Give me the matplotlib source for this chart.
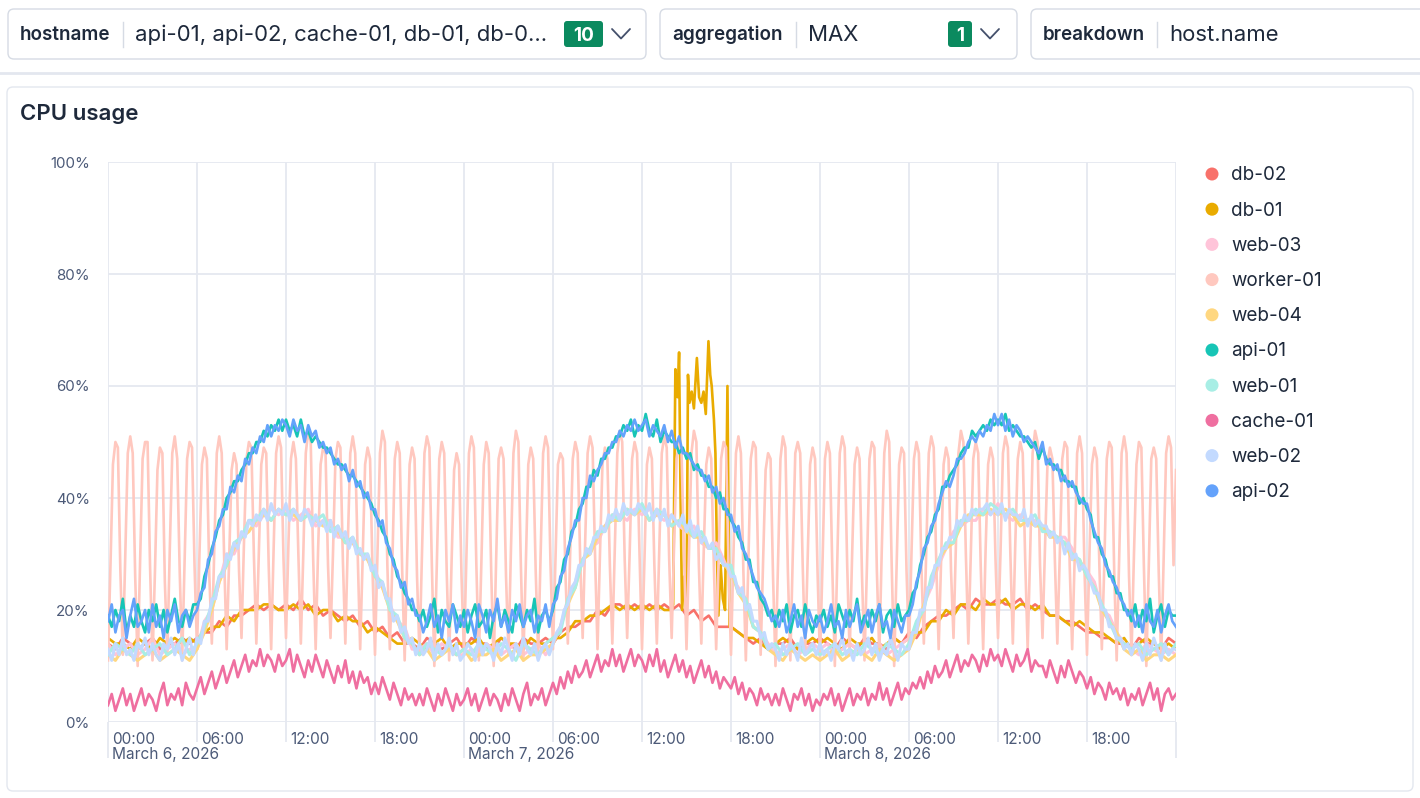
import matplotlib
matplotlib.use("Agg")
import matplotlib.pyplot as plt
import matplotlib.transforms as mtransforms
from matplotlib.patches import FancyBboxPatch, Circle
import numpy as np

plt.rcParams['font.family'] = ['Inter', 'DejaVu Sans']

# sample times in hours since 00:00 March 6, 2026
hours = np.arange(0, 72.5, 0.5)        # half-hourly
quarters = np.linspace(0, 72, 289)     # every 15 minutes
worker_hours = np.linspace(0, 72, 433)  # every 10 minutes

# ---- series values (CPU %) ----
db_02 = [
    14, 13, 15, 14, 13, 14, 15, 13, 14, 14, 15, 14, 15, 16, 16, 18, 17, 19, 19, 20, 21, 20, 21, 20,
    21, 20, 22, 20, 21, 19, 20, 19, 18, 19, 17, 18, 16, 17, 15, 16, 14, 14, 13, 15, 14, 13, 14, 15,
    13, 15, 14, 14, 13, 15, 14, 13, 15, 14, 14, 15, 14, 16, 17, 17, 18, 18, 20, 19, 21, 21, 20, 21,
    20, 21, 20, 21, 20, 21, 19, 20, 18, 19, 17, 17, 17, 16, 15, 14, 15, 13, 14, 14, 15, 13, 14, 14,
    15, 14, 13, 15, 14, 13, 15, 14, 14, 13, 15, 14, 16, 15, 17, 18, 19, 19, 20, 21, 20, 22, 21, 21,
    22, 21, 21, 22, 20, 21, 20, 19, 19, 18, 18, 17, 16, 16, 15, 15, 14, 14, 13, 15, 14, 14, 13, 15,
    14]
db_01 = [
    15, 14, 14, 13, 15, 14, 13, 15, 14, 15, 14, 15, 14, 16, 17, 17, 19, 18, 20, 20, 20, 21, 21, 20,
    20, 21, 20, 21, 19, 20, 20, 18, 19, 18, 18, 16, 17, 16, 15, 14, 14, 15, 14, 13, 14, 15, 13, 14,
    14, 14, 15, 13, 14, 15, 14, 14, 13, 15, 14, 14, 15, 15, 16, 18, 18, 19, 19, 20, 21, 20, 21, 20,
    21, 20, 21, 20, 20, 20, 20, 20, 20, 19, 18, 18, 17, 16, 15, 15, 14, 13, 14, 15, 14, 13, 14, 15,
    14, 15, 14, 13, 15, 14, 14, 15, 13, 14, 15, 14, 15, 16, 16, 18, 18, 20, 19, 21, 21, 20, 22, 21,
    21, 22, 20, 21, 21, 20, 21, 19, 19, 18, 17, 18, 17, 16, 16, 15, 14, 15, 13, 14, 15, 14, 13, 14,
    13]
# db-01 burst on the afternoon of March 7
db_01_spike_hours = [38.1, 38.25, 38.4, 38.5, 38.6, 38.7, 38.85, 39.0, 39.1, 39.2, 39.35, 39.5,
                     39.7, 39.85, 40.0, 40.15, 40.3, 40.48, 40.6, 40.7, 40.85, 40.95, 41.05,
                     41.15, 41.3, 41.45, 41.6, 41.76, 41.9]
db_01_spike = [21, 63, 58, 66, 40, 20, 26, 19, 62, 57, 59, 56, 65, 58, 57, 59, 55, 68, 62, 60,
               54, 48, 30, 19, 28, 22, 20, 60, 17]
web_03 = [
    14, 12, 13, 14, 12, 13, 15, 12, 13, 14, 12, 13, 13, 18, 20, 25, 30, 30, 33, 36, 35, 37, 38, 37,
    38, 36, 37, 38, 35, 36, 36, 33, 33, 32, 30, 29, 27, 24, 21, 18, 17, 13, 13, 14, 12, 14, 13, 12,
    12, 13, 12, 14, 13, 12, 13, 14, 12, 13, 14, 12, 14, 17, 22, 25, 29, 31, 32, 35, 37, 37, 36, 38,
    37, 38, 37, 36, 37, 35, 34, 35, 32, 31, 32, 29, 26, 24, 22, 17, 16, 14, 12, 13, 14, 12, 13, 14,
    13, 14, 12, 13, 14, 13, 12, 13, 14, 12, 13, 14, 15, 17, 21, 24, 28, 31, 34, 35, 36, 36, 38, 37,
    39, 37, 36, 37, 36, 36, 35, 34, 33, 33, 31, 28, 27, 25, 20, 19, 16, 14, 13, 12, 14, 13, 12, 13,
    12]
worker_01 = [
    11, 28, 46, 50, 49, 27, 12, 30, 48, 51, 48, 26,
    10, 29, 47, 50, 50, 28, 11, 27, 45, 49, 48, 25,
    12, 31, 48, 51, 47, 27, 11, 29, 47, 50, 49, 28,
    13, 30, 46, 49, 47, 26, 14, 31, 48, 51, 48, 29,
    13, 29, 45, 48, 46, 27, 15, 32, 47, 50, 49, 30,
    14, 30, 46, 49, 48, 28, 13, 31, 48, 51, 49, 29,
    15, 32, 47, 50, 47, 30, 14, 30, 48, 52, 50, 29,
    13, 31, 46, 49, 48, 28, 15, 30, 47, 50, 49, 29,
    14, 32, 48, 51, 48, 30, 13, 29, 46, 49, 47, 27,
    12, 30, 48, 52, 50, 28, 13, 28, 47, 50, 48, 27,
    11, 29, 46, 49, 47, 26, 12, 30, 48, 51, 49, 28,
    10, 28, 47, 50, 48, 27, 11, 29, 45, 48, 46, 26,
    12, 30, 48, 51, 49, 28, 11, 28, 46, 50, 48, 27,
    10, 29, 47, 49, 47, 26, 12, 31, 48, 52, 50, 28,
    11, 28, 46, 49, 47, 27, 12, 30, 48, 51, 49, 28,
    13, 29, 46, 48, 47, 27, 14, 31, 47, 50, 48, 29,
    15, 32, 48, 51, 49, 30, 13, 30, 46, 49, 47, 28,
    14, 31, 48, 52, 50, 29, 15, 30, 47, 50, 48, 30,
    13, 29, 46, 49, 47, 28, 14, 31, 48, 51, 49, 29,
    15, 32, 47, 50, 48, 30, 13, 30, 48, 52, 50, 28,
    14, 31, 46, 49, 47, 29, 13, 29, 47, 50, 49, 28,
    12, 30, 48, 51, 48, 27, 11, 28, 47, 50, 49, 28,
    12, 29, 45, 48, 47, 26, 10, 28, 47, 51, 49, 27,
    11, 30, 48, 50, 48, 28, 12, 29, 46, 49, 47, 27,
    11, 28, 47, 50, 48, 27, 10, 29, 48, 51, 49, 28,
    12, 30, 46, 49, 47, 26, 11, 28, 47, 50, 49, 27,
    12, 31, 48, 52, 50, 28, 10, 28, 46, 49, 48, 27,
    13, 30, 47, 50, 48, 28, 14, 31, 48, 51, 49, 29,
    13, 29, 46, 49, 47, 27, 15, 32, 48, 52, 50, 30,
    14, 30, 47, 50, 48, 28, 13, 31, 46, 49, 47, 29,
    15, 30, 48, 51, 49, 30, 14, 32, 47, 50, 48, 29,
    13, 30, 48, 52, 50, 28, 15, 31, 46, 49, 47, 29,
    14, 30, 47, 50, 49, 28, 13, 29, 48, 51, 48, 27,
    12, 30, 46, 49, 47, 28, 13, 28, 47, 50, 49, 27,
    11, 29, 48, 51, 48, 26, 12, 30, 46, 50, 49, 28,
    10, 28, 47, 49, 47, 27, 11, 29, 48, 51, 49, 28,
    45]
web_04 = [
    12, 11, 13, 12, 11, 12, 13, 11, 12, 13, 12, 11, 13, 16, 20, 25, 28, 31, 33, 34, 36, 37, 36, 38,
    37, 37, 36, 37, 36, 35, 35, 34, 32, 32, 30, 29, 26, 24, 20, 18, 15, 14, 12, 13, 11, 12, 13, 12,
    13, 11, 12, 12, 13, 11, 12, 13, 11, 12, 12, 13, 14, 17, 21, 24, 29, 30, 33, 35, 36, 36, 38, 37,
    38, 36, 37, 37, 35, 36, 34, 33, 33, 31, 31, 28, 27, 23, 21, 17, 16, 13, 12, 11, 13, 12, 11, 12,
    11, 12, 13, 11, 12, 13, 12, 11, 13, 12, 11, 12, 13, 16, 21, 25, 29, 31, 32, 35, 37, 37, 37, 38,
    37, 38, 37, 35, 36, 35, 35, 33, 33, 32, 29, 29, 26, 24, 20, 18, 16, 13, 12, 13, 11, 12, 12, 11,
    12]
# api-01, every 15 minutes
api_01 = [
    19, 17, 20, 18, 22, 16, 19, 17, 21, 18, 16, 20, 18, 21, 17, 20, 16, 19, 22, 18, 17, 20, 18, 21,
    21, 22, 26, 28, 31, 33, 36, 37, 40, 41, 43, 43, 45, 46, 48, 48, 50, 50, 52, 51, 53, 52, 54, 52,
    54, 52, 53, 51, 54, 51, 52, 50, 51, 50, 49, 49, 48, 47, 46, 46, 45, 44, 44, 43, 42, 41, 40, 39,
    37, 36, 34, 33, 30, 29, 26, 25, 23, 22, 20, 20, 18, 20, 17, 19, 22, 16, 20, 18, 17, 21, 19, 17,
    20, 16, 19, 21, 17, 18, 20, 15, 19, 21, 17, 20, 18, 16, 21, 19, 17, 20, 18, 22, 16, 19, 20, 18,
    20, 24, 25, 29, 30, 34, 35, 38, 39, 42, 42, 45, 44, 47, 47, 49, 49, 51, 51, 53, 52, 54, 51, 53,
    52, 55, 52, 51, 54, 50, 52, 51, 50, 50, 48, 49, 47, 48, 45, 46, 44, 44, 42, 42, 40, 41, 38, 38,
    36, 35, 33, 32, 29, 29, 25, 25, 22, 21, 19, 20, 17, 20, 18, 21, 16, 19, 20, 17, 21, 18, 16, 19,
    18, 20, 17, 19, 16, 21, 19, 17, 20, 18, 22, 17, 19, 17, 20, 18, 21, 16, 19, 20, 17, 21, 18, 19,
    20, 23, 24, 28, 30, 33, 34, 37, 38, 42, 42, 44, 45, 46, 48, 49, 49, 52, 51, 52, 53, 52, 54, 53,
    54, 53, 55, 52, 53, 52, 51, 51, 50, 49, 50, 47, 49, 47, 46, 46, 45, 45, 43, 43, 42, 42, 39, 40,
    38, 37, 33, 33, 30, 29, 26, 26, 23, 23, 20, 20, 18, 21, 17, 20, 18, 22, 16, 19, 21, 17, 20, 19,
    19]
web_01 = [
    12, 14, 13, 12, 14, 12, 13, 14, 12, 13, 15, 12, 14, 17, 21, 26, 28, 32, 33, 36, 36, 38, 36, 38,
    37, 38, 36, 37, 36, 37, 34, 35, 32, 33, 30, 30, 26, 25, 20, 19, 15, 14, 12, 14, 13, 12, 14, 12,
    13, 12, 14, 13, 12, 14, 13, 11, 14, 13, 12, 14, 15, 16, 22, 24, 29, 31, 34, 34, 37, 36, 38, 37,
    39, 36, 38, 37, 35, 36, 35, 33, 34, 31, 31, 28, 28, 23, 22, 17, 16, 13, 14, 12, 13, 14, 12, 13,
    12, 13, 14, 12, 13, 12, 14, 13, 12, 14, 13, 12, 14, 18, 20, 26, 29, 32, 32, 36, 36, 38, 37, 39,
    38, 37, 38, 36, 36, 37, 34, 34, 33, 32, 30, 29, 26, 24, 21, 18, 15, 14, 13, 14, 12, 13, 14, 12,
    14]
# cache-01, every 15 minutes
cache_01 = [
    3, 5, 2, 4, 6, 3, 5, 2, 4, 6, 3, 5, 4, 2, 5, 7, 3, 5, 4, 6, 3, 7, 5, 4,
    6, 8, 5, 7, 9, 6, 8, 10, 7, 9, 11, 8, 10, 12, 9, 11, 10, 13, 10, 12, 11, 9, 12, 10,
    11, 13, 9, 12, 10, 8, 11, 9, 12, 10, 8, 11, 9, 7, 10, 8, 11, 7, 9, 6, 9, 7, 8, 5,
    7, 5, 8, 6, 4, 7, 5, 3, 6, 4, 5, 3, 5, 3, 6, 4, 2, 5, 3, 6, 4, 2, 5, 3,
    4, 6, 3, 5, 2, 4, 6, 3, 5, 4, 2, 5, 3, 6, 4, 2, 5, 7, 3, 5, 4, 6, 3, 5,
    7, 5, 8, 6, 9, 7, 10, 8, 9, 11, 8, 10, 12, 9, 11, 10, 13, 10, 12, 9, 11, 13, 10, 12,
    11, 9, 12, 10, 13, 9, 11, 8, 10, 12, 9, 11, 8, 10, 7, 9, 11, 8, 10, 7, 9, 6, 8, 7,
    6, 8, 5, 7, 4, 6, 5, 3, 6, 4, 5, 3, 5, 3, 6, 4, 2, 5, 4, 6, 3, 5, 2, 4,
    3, 5, 4, 6, 3, 5, 2, 4, 6, 3, 5, 4, 6, 3, 5, 4, 7, 4, 6, 3, 5, 7, 4, 6,
    5, 7, 6, 8, 6, 9, 7, 10, 8, 9, 11, 8, 10, 12, 9, 11, 10, 12, 11, 9, 12, 10, 13, 11,
    12, 10, 13, 11, 9, 12, 10, 11, 13, 9, 11, 10, 10, 8, 11, 9, 7, 10, 8, 11, 9, 7, 9, 8,
    6, 8, 5, 7, 6, 4, 7, 5, 6, 4, 6, 3, 5, 4, 6, 3, 5, 7, 4, 6, 2, 5, 6, 4,
    5]
# web-02, every 15 minutes
web_02 = [
    13, 11, 14, 12, 15, 12, 13, 11, 14, 13, 15, 12, 14, 12, 11, 14, 13, 15, 12, 14, 11, 13, 15, 12,
    15, 14, 18, 18, 22, 22, 26, 26, 30, 29, 32, 31, 34, 33, 36, 35, 37, 36, 38, 36, 39, 37, 38, 37,
    39, 36, 38, 37, 36, 38, 37, 35, 37, 35, 36, 34, 36, 33, 35, 33, 34, 31, 33, 30, 31, 29, 30, 27,
    28, 24, 25, 22, 22, 18, 19, 16, 17, 14, 15, 12, 14, 12, 13, 15, 11, 14, 12, 13, 15, 12, 14, 11,
    12, 14, 13, 11, 15, 12, 14, 13, 11, 14, 12, 15, 13, 11, 14, 12, 15, 13, 12, 14, 11, 13, 14, 12,
    14, 16, 17, 20, 21, 24, 25, 28, 28, 31, 30, 33, 33, 35, 34, 37, 36, 38, 36, 39, 37, 38, 37, 39,
    38, 37, 39, 36, 38, 36, 38, 35, 37, 36, 35, 37, 34, 36, 33, 35, 32, 33, 31, 32, 29, 30, 28, 28,
    26, 26, 23, 24, 20, 21, 18, 18, 15, 16, 13, 14, 13, 11, 14, 12, 14, 13, 11, 15, 12, 13, 14, 12,
    14, 12, 13, 11, 14, 13, 15, 12, 13, 11, 14, 12, 13, 15, 12, 14, 11, 13, 12, 15, 13, 11, 14, 13,
    13, 16, 16, 20, 20, 24, 24, 28, 28, 31, 31, 33, 33, 36, 35, 37, 36, 38, 37, 38, 38, 39, 37, 38,
    37, 39, 36, 38, 37, 37, 36, 38, 35, 37, 35, 36, 35, 35, 33, 34, 32, 33, 30, 32, 29, 30, 27, 28,
    27, 25, 23, 23, 20, 20, 17, 17, 15, 15, 13, 14, 12, 14, 13, 11, 14, 12, 15, 13, 11, 14, 12, 13,
    13]
# api-02, every 15 minutes
api_02 = [
    18, 21, 16, 19, 20, 15, 19, 22, 17, 18, 20, 16, 21, 17, 19, 15, 20, 18, 21, 16, 19, 20, 17, 19,
    20, 23, 24, 29, 30, 34, 35, 38, 38, 42, 41, 44, 43, 47, 46, 49, 48, 51, 50, 53, 51, 53, 52, 54,
    53, 51, 54, 52, 53, 50, 53, 51, 52, 49, 50, 48, 49, 46, 47, 45, 46, 43, 45, 42, 43, 40, 41, 38,
    38, 35, 36, 32, 31, 28, 27, 24, 25, 21, 22, 19, 19, 16, 18, 21, 17, 19, 15, 20, 18, 21, 16, 19,
    17, 20, 18, 15, 21, 19, 16, 20, 18, 22, 17, 19, 16, 20, 18, 21, 17, 19, 20, 16, 19, 18, 21, 17,
    21, 22, 26, 27, 31, 33, 36, 36, 40, 40, 44, 43, 45, 46, 48, 48, 50, 50, 52, 51, 53, 52, 54, 52,
    53, 54, 51, 53, 52, 51, 53, 50, 52, 49, 51, 48, 48, 47, 46, 45, 45, 43, 44, 41, 42, 39, 40, 37,
    37, 34, 35, 31, 30, 28, 26, 24, 23, 22, 20, 18, 19, 17, 20, 16, 18, 21, 17, 19, 15, 20, 18, 17,
    19, 16, 18, 21, 17, 18, 15, 20, 17, 19, 21, 16, 18, 20, 16, 19, 21, 17, 18, 15, 20, 18, 16, 19,
    19, 21, 25, 27, 31, 32, 35, 36, 39, 41, 43, 42, 44, 47, 47, 48, 50, 51, 50, 52, 51, 53, 52, 55,
    53, 55, 52, 54, 51, 53, 52, 50, 51, 50, 49, 48, 50, 46, 47, 45, 46, 43, 44, 42, 43, 41, 40, 39,
    39, 36, 34, 32, 31, 28, 27, 25, 24, 22, 21, 19, 20, 17, 19, 16, 21, 18, 17, 20, 16, 19, 21, 18,
    17]

hour_labels = ["00:00", "06:00", "12:00", "18:00"] * 3
date_labels = ["March 6, 2026", "March 7, 2026", "March 8, 2026"]
y_ticks = [0, 20, 40, 60, 80, 100]

# db-01: put the burst samples in place of the half-hourly ones
keep = (hours < 38.05) | (hours > 41.95)
db01_h = np.concatenate([hours[keep], db_01_spike_hours])
db01_v = np.concatenate([np.array(db_01)[keep], db_01_spike])
order = np.argsort(db01_h)
db01_h, db01_v = db01_h[order], db01_v[order]

series = [
    ("db-02", "#f8716a", hours, db_02),
    ("db-01", "#e9ab00", db01_h, db01_v),
    ("web-03", "#ffc4d9", hours, web_03),
    ("worker-01", "#ffc8bf", worker_hours, worker_01),
    ("web-04", "#ffd780", hours, web_04),
    ("api-01", "#17c5b6", quarters, api_01),
    ("web-01", "#a8eee5", hours, web_01),
    ("cache-01", "#ef6fa0", quarters, cache_01),
    ("web-02", "#c3daff", quarters, web_02),
    ("api-02", "#64a2fb", quarters, api_02),
]

DARK = "#1e293b"
MUTED = "#4c5a78"
GRID = "#e5e8f0"
BORDER = "#d6dbe4"

fig = plt.figure(figsize=(14.2, 7.98), dpi=100)
renderer = fig.canvas.get_renderer()


def fit_size(text, width_px, **kw):
    # font size that makes `text` about width_px wide
    t = fig.text(0, 0, text, fontsize=10, **kw)
    w = t.get_window_extent(renderer).width
    t.remove()
    return 10.0 * width_px / w


# background layer in pixel coordinates
bg = fig.add_axes([0, 0, 1, 1], zorder=0)
bg.set_xlim(0, 1420)
bg.set_ylim(798, 0)
bg.axis("off")

fs_key = fit_size("hostname", 90, weight="semibold")
fs_val = fit_size("api-01, api-02, cache-01, db-01, db-0...", 414)
fs_badge = fit_size("10", 21, weight="bold")

filters = [
    # box x0, x1, key, divider x, value, badge
    (8, 646, "hostname", 123, "api-01, api-02, cache-01, db-01, db-0...", ("10", 564, 603)),
    (660, 1017, "aggregation", 796, "MAX", ("1", 948, 972)),
    (1031, 1440, "breakdown", 1157, "host.name", None),
]
for x0, x1, key, xd, val, badge in filters:
    bg.add_patch(FancyBboxPatch((x0, 9), x1 - x0, 50, boxstyle="round,pad=0,rounding_size=6",
                                fc="white", ec=BORDER, lw=1.0))
    bg.text(x0 + 12, 40, key, fontsize=fs_key, weight="semibold", color=DARK, va="baseline")
    bg.plot([xd, xd], [22, 47], color=BORDER, lw=1.0)
    bg.text(xd + 12, 41, val, fontsize=fs_val, color=DARK, va="baseline")
    if badge:
        txt, bx0, bx1 = badge
        bg.add_patch(FancyBboxPatch((bx0, 21), bx1 - bx0, 26, boxstyle="round,pad=0,rounding_size=3",
                                    fc="#0b8a5f", ec="none"))
        bg.text((bx0 + bx1) / 2, 41, txt, fontsize=fs_badge, weight="bold", color="white",
                ha="center", va="baseline")
        cx = bx1 + 18
        bg.plot([cx - 9, cx, cx + 9], [29, 38.5, 29], color="#44506b", lw=1.3,
                solid_capstyle="round", solid_joinstyle="round")

bg.plot([0, 1420], [73, 73], color="#e3e7ef", lw=2)

# chart panel
bg.add_patch(FancyBboxPatch((7, 87), 1406, 704, boxstyle="round,pad=0,rounding_size=6",
                            fc="white", ec="#e3e7ef", lw=1.0))
fs_title = fit_size("CPU usage", 118, weight="semibold")
bg.text(20, 120, "CPU usage", fontsize=fs_title, weight="semibold", color=DARK, va="baseline")

# legend
fs_leg = fit_size("worker-01", 91)
for i, (name, color, _, _) in enumerate(series):
    yy = 174 + 35.2 * i
    bg.add_patch(Circle((1212, yy), 6.5, fc=color, ec="none"))
    bg.text(1231, yy + 6.5, name, fontsize=fs_leg, color=DARK, va="baseline")

# plot area
ax = fig.add_axes([108 / 1420, (798 - 722) / 798, 1068 / 1420, 560 / 798], zorder=2)
ax.patch.set_alpha(0)
for name, color, x, y in series:
    lw = 2.2 if name.startswith("web") else 1.9
    ax.plot(x, y, color=color, lw=lw, solid_joinstyle="round")

ax.set_xlim(0, 72)
ax.set_ylim(0, 100)
for s in ax.spines.values():
    s.set_visible(False)
ax.set_xticks([0, 24, 48, 72])
ax.set_xticks([6, 12, 18, 30, 36, 42, 54, 60, 66], minor=True)
ax.set_xticklabels([])
ax.tick_params(axis="x", which="major", length=26, width=1.3, color=GRID, direction="out")
ax.tick_params(axis="x", which="minor", length=14.4, width=1.3, color=GRID, direction="out")
ax.grid(True, which="both", axis="x", color=GRID, lw=1.3)
ax.set_yticks(y_ticks)
fs_ytick = fit_size("100%", 40)
ax.set_yticklabels([f"{v}%" for v in y_ticks], fontsize=fs_ytick, color=MUTED)
ax.tick_params(axis="y", length=0, pad=13)
ax.grid(True, axis="y", color=GRID, lw=1.3)
ax.set_axisbelow(True)

fs_xtick = fit_size("00:00", 44)
t_hour = ax.get_xaxis_transform() + mtransforms.ScaledTranslation(4 / 100, -17 / 100, fig.dpi_scale_trans)
t_date = ax.get_xaxis_transform() + mtransforms.ScaledTranslation(4 / 100, -33 / 100, fig.dpi_scale_trans)
for i, lab in enumerate(hour_labels):
    ax.text(i * 6, 0, lab, transform=t_hour, fontsize=fs_xtick, color=MUTED, ha="left", va="center")
for i, lab in enumerate(date_labels):
    ax.text(i * 24, 0, lab, transform=t_date, fontsize=fs_xtick, color=MUTED, ha="left", va="center")

fig.savefig("out.png", dpi=100)
